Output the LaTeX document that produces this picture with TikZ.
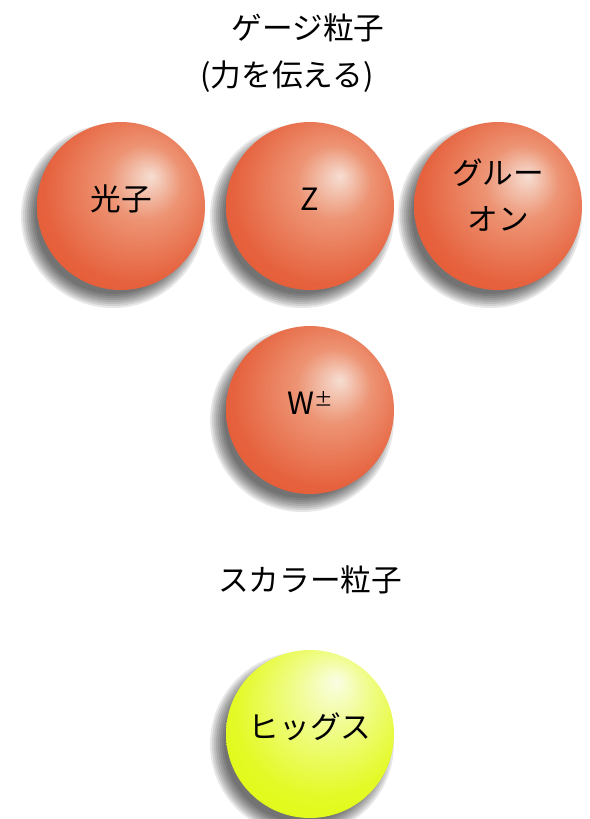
\documentclass[tikz,border=0pt]{standalone}
\usepackage{fontspec}
\setmainfont{Noto Sans CJK JP}
\definecolor{ohl}{RGB}{246,222,210}
\definecolor{omid}{RGB}{237,148,116}
\definecolor{omid2}{RGB}{230,98,62}
\definecolor{oedge}{RGB}{226,80,40}
\definecolor{yhl}{RGB}{250,253,228}
\definecolor{ymid}{RGB}{240,252,140}
\definecolor{ymid2}{RGB}{228,250,40}
\definecolor{yedge}{RGB}{222,250,0}
\pgfdeclareradialshading{orangeball}{\pgfpoint{9bp}{9bp}}{color(0bp)=(ohl); color(11bp)=(omid); color(27bp)=(omid2); color(42bp)=(oedge); color(50bp)=(oedge)}
\pgfdeclareradialshading{yellowball}{\pgfpoint{8bp}{16bp}}{color(0bp)=(yhl); color(11bp)=(ymid); color(26bp)=(ymid2); color(42bp)=(yedge); color(50bp)=(yedge)}
\tikzset{
  ball/.style={circle, minimum size=126pt, inner sep=0pt, align=center,
    font=\fontsize{23}{35}\selectfont, text height=20pt, text depth=13.5pt},
  gauge/.style={ball, shading=orangeball},
  scalar/.style={ball, shading=yellowball},
  shadowc/.style={fill=black, fill opacity=0.095, draw=none},
  title/.style={font=\fontsize{23}{28}\selectfont, inner sep=0pt}
}
\begin{document}
\begin{tikzpicture}[x=0.75pt,y=-0.75pt]
\useasboundingbox (0,0) rectangle (590,819);
\coordinate (pc) at (121,206);
\coordinate (zc) at (310,206);
\coordinate (gc) at (498,206);
\coordinate (wc) at (310,410);
\coordinate (hc) at (310,734);
\foreach \c in {pc,zc,gc,wc,hc}
  \foreach \r in {78,80,...,92}
    \fill[shadowc] ([shift={(-8,10)}]\c) circle (\r);
\node[title] (t1) at (308,28) {ゲージ粒子};
\node[title] (t2) at (287,77) {(力を伝える)};
\node[gauge] (photon) at (pc) {光子};
\node[gauge] (z) at (zc) {Z};
\node[gauge, text height=50pt, text depth=13pt] (gluon) at (gc)
  {\begin{tabular}[b]{@{}c@{}}グルー\\オン\end{tabular}};
\node[gauge] (w) at (wc) {W{\fontsize{14}{14}\selectfont\raisebox{6pt}{±}}};
\node[title] (t3) at (310,580) {スカラー粒子};
\node[scalar] (higgs) at (hc) {ヒッグス};
\end{tikzpicture}
\end{document}
